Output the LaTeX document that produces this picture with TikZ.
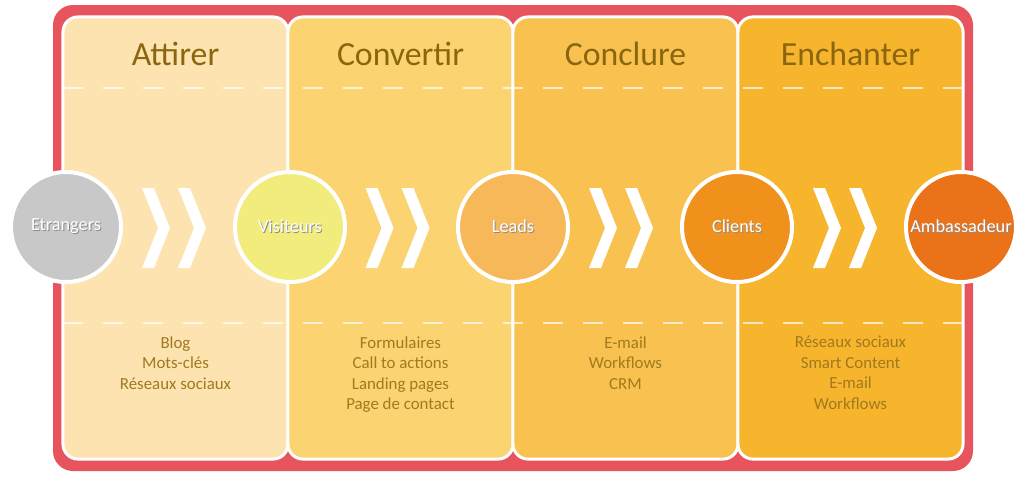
\documentclass[tikz,border=0pt]{standalone}
\usepackage{fontspec}
\setmainfont{Carlito}
\usetikzlibrary{calc}
\definecolor{frame}{RGB}{231,84,94}
\definecolor{attirer}{RGB}{253,227,175}
\definecolor{convertir}{RGB}{251,211,112}
\definecolor{conclure}{RGB}{249,194,80}
\definecolor{enchanter}{RGB}{247,180,45}
\definecolor{etrangers}{RGB}{200,200,200}
\definecolor{visiteurs}{RGB}{241,236,124}
\definecolor{leads}{RGB}{247,184,90}
\definecolor{clients}{RGB}{240,145,28}
\definecolor{ambassadeur}{RGB}{234,114,24}
\definecolor{titletext}{RGB}{138,102,14}
\definecolor{itemtext}{RGB}{160,122,30}
\newcommand\stagetext[1]{\makebox[0pt][l]{\kern0.7pt\raisebox{-0.7pt}{\textcolor{black!45}{#1}}}#1}
\tikzset{panel/.style={
    draw=white,
    line width=0.75mm,
    rounded corners=3.75mm,
    minimum width=56.25mm,
    minimum height=110.5mm,
    inner sep=0pt
  },
  stage/.style={
    circle,
    draw=white,
    line width=1mm,
    minimum size=27.5mm,
    inner sep=0pt,
    text=white,
    font=\fontsize{13}{15}\selectfont
  },
  title/.style={anchor=base, text=titletext, font=\fontsize{24}{28}\selectfont},
  items/.style={anchor=north, align=center, inner sep=0pt, text=itemtext,
    font=\fontsize{12}{14.6}\selectfont},
  divider/.style={draw=white, opacity=0.7, line width=0.5mm, dash pattern=on 5mm off 5mm},
  chevron/.pic={\fill[white] (0,0) -- (12,0) -- (28,40) -- (12,80) -- (0,80) -- (16,40) -- cycle;}
}
\begin{document}
\begin{tikzpicture}[x=0.025cm, y=-0.025cm]
  \useasboundingbox (0,0) rectangle (1024,476);
  \fill[frame, rounded corners=5mm] (53,5) rectangle (973,471);
  % stages
  \node[panel, fill=attirer] (pAttirer) at (175.5,238) {};
  \node[panel, fill=convertir] (pConvertir) at (400.5,238) {};
  \node[panel, fill=conclure] (pConclure) at (625.5,238) {};
  \node[panel, fill=enchanter] (pEnchanter) at (850.5,238) {};
  \draw[divider] (63,88) -- (963,88);
  \draw[divider] (63,323) -- (963,323);
  \node[title] (tAttirer) at (175.5,65) {Attirer};
  \node[title] (tConvertir) at (400.5,65) {Convertir};
  \node[title] (tConclure) at (625.5,65) {Conclure};
  \node[title] (tEnchanter) at (850.5,65) {Enchanter};
  \node[items] (iAttirer) at (175.5,336) {Blog\\Mots-clés\\Réseaux sociaux};
  \node[items] (iConvertir) at (400.5,336) {Formulaires\\Call to actions\\Landing pages\\Page de contact};
  \node[items] (iConclure) at (625.5,336) {E-mail\\Workflows\\CRM};
  \node[items] (iEnchanter) at (850.5,336) {Réseaux sociaux\\Smart Content\\E-mail\\Workflows};
  % contacts
  \node[stage, fill=etrangers] (etrangers) at (66,227) {\stagetext{Etrangers}};
  \node[stage, fill=visiteurs] (visiteurs) at (290,227) {\stagetext{Visiteurs}};
  \node[stage, fill=leads] (leads) at (513,227) {\stagetext{Leads}};
  \node[stage, fill=clients] (clients) at (737,227) {\stagetext{Clients}};
  \node[stage, fill=ambassadeur] (ambassadeur) at (961,227) {\stagetext{Ambassadeur}};
  \foreach \a/\b in {etrangers/visiteurs, visiteurs/leads, leads/clients, clients/ambassadeur}{
    \coordinate (m) at ($(\a)!0.5!(\b)$);
    \pic at ([shift={(-36,-39)}]m) {chevron};
    \pic at ([shift={(0,-39)}]m) {chevron};
  }
\end{tikzpicture}
\end{document}
